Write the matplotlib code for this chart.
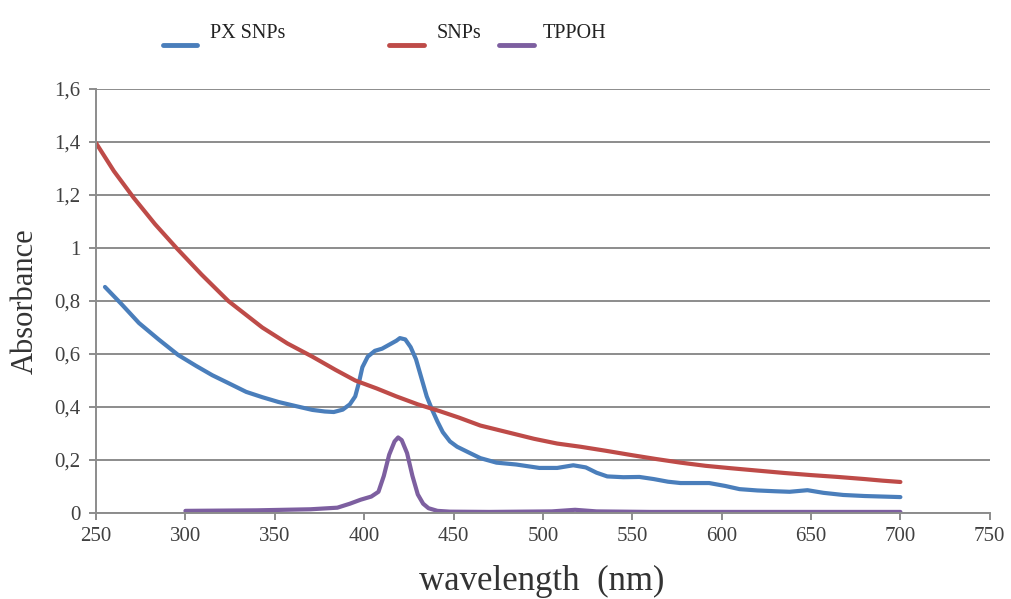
import matplotlib.pyplot as plt
from matplotlib.lines import Line2D

# donnees
wl_px = [255, 264, 274, 285, 296, 306, 315, 325, 334, 343, 352, 362, 371, 378, 383, 388,
         392, 395, 397, 399, 402, 406, 410, 414, 418, 420, 423, 426, 429, 432, 435, 438,
         441, 444, 448, 452, 458, 465, 474, 485, 498, 508, 517, 524, 530, 536, 545, 554,
         562, 570, 577, 585, 593, 602, 610, 620, 630, 638, 648, 657, 668, 680, 690, 700]
abs_px = [0.853, 0.79, 0.717, 0.655, 0.596, 0.555, 0.52, 0.487, 0.457, 0.437, 0.419, 0.403,
          0.389, 0.383, 0.381, 0.39, 0.41, 0.44, 0.49, 0.55, 0.59, 0.612, 0.62, 0.635,
          0.65, 0.66, 0.655, 0.626, 0.58, 0.51, 0.44, 0.39, 0.345, 0.305, 0.27, 0.25,
          0.23, 0.207, 0.19, 0.183, 0.17, 0.17, 0.18, 0.172, 0.152, 0.138, 0.135, 0.136,
          0.128, 0.118, 0.113, 0.113, 0.113, 0.102, 0.09, 0.085, 0.082, 0.08, 0.086, 0.076,
          0.068, 0.064, 0.062, 0.06]

wl_snp = [250, 260, 271, 283, 295, 309, 324, 343, 357, 371, 384, 395, 407, 418, 430, 442,
          453, 465, 480, 495, 508, 521, 535, 550, 563, 577, 591, 605, 620, 635, 650, 665,
          680, 690, 700]
abs_snp = [1.396, 1.29, 1.19, 1.09, 1.00, 0.90, 0.80, 0.70, 0.64, 0.59, 0.54, 0.50, 0.47,
           0.44, 0.41, 0.385, 0.36, 0.33, 0.305, 0.28, 0.262, 0.25, 0.235, 0.218, 0.204,
           0.19, 0.178, 0.169, 0.16, 0.151, 0.143, 0.136, 0.128, 0.122, 0.117]

wl_tp = [300, 340, 370, 385, 392, 398, 404, 408, 411, 414, 417, 419, 421, 424, 427, 430,
         433, 436, 441, 448, 470, 505, 518, 530, 560, 620, 700]
abs_tp = [0.008, 0.01, 0.014, 0.02, 0.035, 0.05, 0.062, 0.08, 0.14, 0.22, 0.27, 0.285,
          0.275, 0.226, 0.14, 0.07, 0.035, 0.018, 0.008, 0.005, 0.004, 0.006, 0.012,
          0.006, 0.004, 0.004, 0.004]

xticks = [250, 300, 350, 400, 450, 500, 550, 600, 650, 700, 750]
yticks = [0, 0.2, 0.4, 0.6, 0.8, 1.0, 1.2, 1.4, 1.6]
ylabels = ["0", "0,2", "0,4", "0,6", "0,8", "1", "1,2", "1,4", "1,6"]

plt.rcParams['font.family'] = 'Liberation Serif'

fig = plt.figure(figsize=(10.11, 5.99), dpi=100)
ax = fig.add_axes([0.095, 0.1436, 0.884, 0.7078])

c_px, c_snp, c_tp = '#4a7ebb', '#be4b48', '#7d5fa0'
ax.plot(wl_px, abs_px, color=c_px, lw=3, solid_capstyle='round', solid_joinstyle='round')
ax.plot(wl_snp, abs_snp, color=c_snp, lw=3, solid_capstyle='round', solid_joinstyle='round')
ax.plot(wl_tp, abs_tp, color=c_tp, lw=3, solid_capstyle='round', solid_joinstyle='round')

ax.set_xlim(250, 750)
ax.set_ylim(0, 1.6)
ax.set_xticks(xticks)
ax.set_yticks(yticks)
ax.set_yticklabels(ylabels)
ax.grid(axis='y', color='#8c8c8c', lw=1.4)
ax.set_axisbelow(True)
for s in ['top', 'right']:
    ax.spines[s].set_visible(False)
for s in ['left', 'bottom']:
    ax.spines[s].set_color('#8c8c8c')
    ax.spines[s].set_linewidth(1.4)
ax.tick_params(axis='both', colors='#8c8c8c', labelcolor='#404040', labelsize=15,
               length=5, width=1.4)
ax.tick_params(axis='x', pad=5)
ax.tick_params(axis='y', pad=6)

fig.text(0.011, 0.497, "Absorbance", rotation=90, fontsize=22, color='#333333',
         ha='left', va='center')
fig.text(0.536, 1 - 590 / 599, "wavelength  (nm)", fontsize=25, color='#333333',
         ha='center', va='baseline')

# legende dessinee a la main (poignee sous le texte comme dans l'original)
W, H = 1011, 599
entries = [(163, 197, 210, "PX SNPs", c_px),
           (389, 424, 437, "SNPs", c_snp),
           (499, 534, 543, "TPPOH", c_tp)]
for x0, x1, xt, lab, col in entries:
    fig.add_artist(Line2D([x0 / W, x1 / W], [1 - 45 / H, 1 - 45 / H], color=col, lw=3.5,
                          solid_capstyle='round', transform=fig.transFigure))
    fig.text(xt / W, 1 - 33 / H, lab, fontsize=14.5, color='#222222', ha='left', va='center')

plt.savefig("out.png", dpi=100)
